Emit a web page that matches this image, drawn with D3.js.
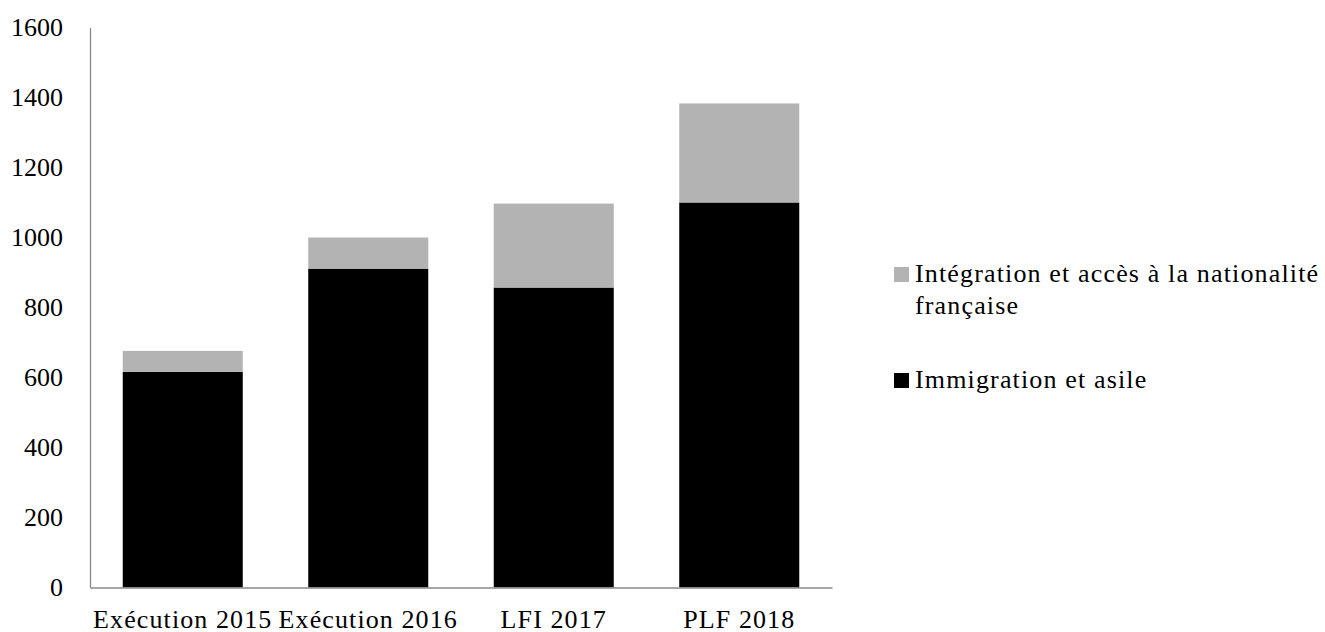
<!DOCTYPE html>
<html>
<head>
<meta charset="utf-8">
<script src="https://cdn.jsdelivr.net/npm/d3@7"></script>
<style>
  html, body { margin: 0; padding: 0; background: #fff; }
  svg text { font-family: "Liberation Serif", "Times New Roman", serif; fill: #000; }
</style>
</head>
<body>
<svg id="chart" width="1325" height="632"></svg>
<script>
const categories = ["Exécution 2015", "Exécution 2016", "LFI 2017", "PLF 2018"];
const immigration = [616, 911, 857, 1100];
const integration = [60, 89, 240, 283];
const yTicks = [0, 200, 400, 600, 800, 1000, 1200, 1400, 1600];
const seriesNames = ["Immigration et asile", "Intégration et accès à la nationalité française"];
const legendLines = [["Intégration et accès à la nationalité", "française"], ["Immigration et asile"]];
const colors = { immigration: "#000000", integration: "#b3b3b3" };

(function () {
const svg = d3.select("#chart");
const mLeft = 90, mRight = 832, mTop = 27.5, mBottom = 587.5;
const fontSize = 26;

const x = d3.scaleBand().domain(categories).range([mLeft, mRight]).paddingInner(0.353).paddingOuter(0.1765);
const y = d3.scaleLinear().domain([0, 1600]).range([mBottom, mTop]);

const rows = categories.map((c, i) => ({ cat: c, immigration: immigration[i], integration: integration[i] }));
const stack = d3.stack().keys(["immigration", "integration"])(rows);

svg.append("g").selectAll("g").data(stack).join("g")
  .attr("fill", d => colors[d.key])
  .selectAll("rect").data(d => d).join("rect")
  .attr("x", d => x(d.data.cat))
  .attr("width", x.bandwidth())
  .attr("y", d => y(d[1]))
  .attr("height", d => y(d[0]) - y(d[1]));

// Y axis
const yAxis = svg.append("g").attr("transform", `translate(${mLeft},0)`)
  .call(d3.axisLeft(y).tickValues(yTicks).tickSize(0).tickPadding(27).tickFormat(d3.format("d")));
yAxis.select(".domain").attr("stroke", "#898989").attr("stroke-width", 1.3);
yAxis.selectAll("text").style("font-size", fontSize + "px").attr("fill", "#000");

// X axis
const xAxis = svg.append("g").attr("transform", `translate(0,${mBottom})`)
  .call(d3.axisBottom(x).tickSize(0).tickPadding(0));
xAxis.select(".domain").attr("stroke", "#898989").attr("stroke-width", 1.3);
xAxis.selectAll("text").style("font-size", fontSize + "px").style("letter-spacing", "1.1px").attr("fill", "#000")
  .attr("dy", null).attr("y", 40);

// Legend
const legend = svg.append("g");
const legendItems = [
  { color: colors.integration, lines: legendLines[0], y: 282 },
  { color: colors.immigration, lines: legendLines[1], y: 388 }
];
legendItems.forEach(item => {
  legend.append("rect").attr("x", 894).attr("y", item.y - 15).attr("width", 15).attr("height", 15).attr("fill", item.color);
  const t = legend.append("text").attr("x", 915).attr("y", item.y)
    .style("font-size", fontSize + "px").style("letter-spacing", "1.15px");
  item.lines.forEach((l, i) => {
    t.append("tspan").attr("x", 915).attr("dy", i === 0 ? 0 : 32).text(l);
  });
});
})();
</script>
</body>
</html>
